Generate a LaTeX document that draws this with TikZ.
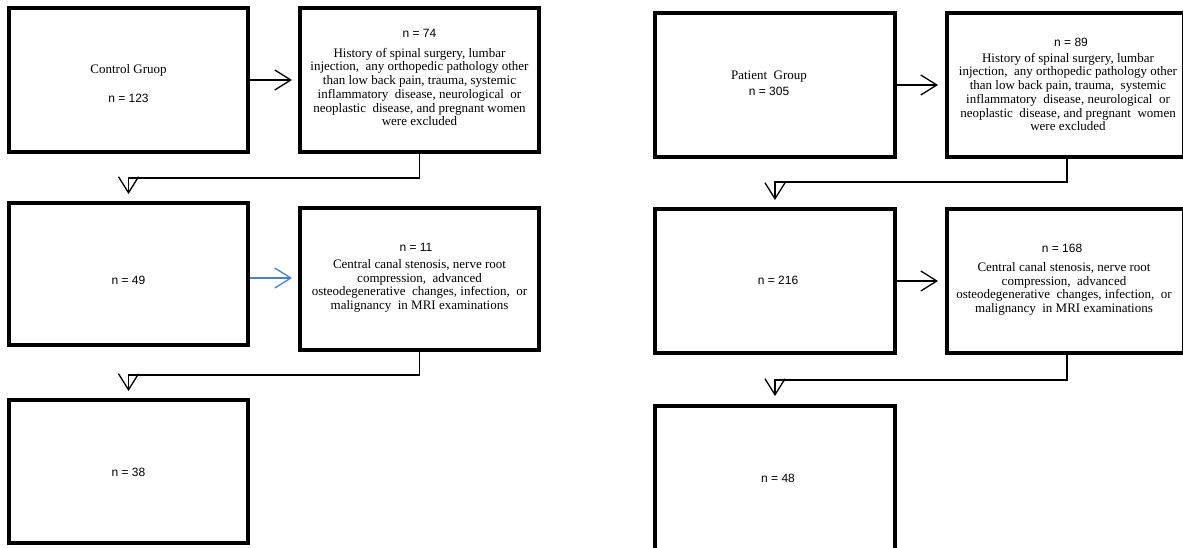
\documentclass[tikz,border=0pt]{standalone}
\usepackage{fontspec}
\setmainfont{Liberation Serif}
\newfontfamily\arialf{Liberation Sans}
\usetikzlibrary{arrows.meta}
\definecolor{arrblue}{RGB}{79,129,189}
\begin{document}
\begin{tikzpicture}[x=1pt,y=-1pt,
  box/.style={draw=black, line width=4pt, rectangle, inner sep=0pt, fill=white},
  bigbox/.style={box, minimum width=239pt, minimum height=144pt},
  sans/.style={font=\arialf\fontsize{12}{13.5}\selectfont, inner sep=0pt},
  serif/.style={font=\fontsize{13}{13.7}\selectfont, align=center, inner sep=0pt},
  arr/.style={line width=1.3pt, -{Straight Barb[length=16pt, width=20pt, line width=1.3pt]}},
  conn/.style={line width=1.2pt, -{Straight Barb[length=16pt, width=20pt, line width=1.3pt]}}
]
\useasboundingbox (0,0) rectangle (1183,548);
\fill[white] (0,0) rectangle (1183,548);

% ---------- left column (control group) ----------
\node[bigbox] (A) at (128.5,80) {};
\node[bigbox] (B) at (419.5,80) {};
\node[bigbox, minimum height=142pt] (C) at (128.5,274) {};
\node[bigbox, minimum height=142pt] (D) at (419.5,279) {};
\node[bigbox, minimum height=143pt] (E) at (128.5,471.5) {};

\node[serif] (tA1) at (128.5,70) {Control Gruop};
\node[sans] (tA2) at (128.5,98) {n = 123};
\node[sans] (tB1) at (419.5,33) {n = 74};
\node[serif] (tB2) at (419.5,87) {History of spinal surgery, lumbar\\
injection, \ any orthopedic pathology other\\
than low back pain, trauma, systemic\\
inflammatory \ disease, neurological \ or\\
neoplastic \ disease, and pregnant women\\
were excluded};
\node[sans] (tC) at (128.5,280) {n = 49};
\node[sans] (tD1) at (416,247) {n = 11};
\node[serif] (tD2) at (419.5,286) {Central canal stenosis, nerve root\\
compression, \ advanced\\
osteodegenerative \ changes, infection, \ or\\
malignancy \ in MRI examinations};
\node[sans] (tE) at (128.5,472) {n = 38};

\draw[arr, shorten >=6pt] (A.east) -- (B.west);
\draw[arr, arrblue, shorten >=6pt] (C.east |- 0,278) -- (D.west |- 0,278);
\coordinate (b1) at (419.5,178);
\draw[conn, shorten >=7pt] (B.south) -- (b1) -| (C.north);
\coordinate (d1) at (419.5,375);
\draw[conn, shorten >=7pt] (D.south) -- (d1) -| (E.north);

% ---------- right column (patient group) ----------
\node[bigbox, minimum width=240pt] (F) at (775,85) {};
\node[bigbox, minimum width=237pt] (G) at (1065.5,85) {};
\node[bigbox, minimum width=240pt] (H) at (775,281) {};
\node[bigbox, minimum width=237pt] (I) at (1065.5,281) {};
\node[bigbox, minimum width=240pt] (J) at (775,478) {};

\node[serif] (tF1) at (769,77) {Patient \ Group};
\node[sans] (tF2) at (769,91) {n = 305};
\node[sans] (tG1) at (1071,42) {n = 89};
\node[serif] (tG2) at (1068,92) {History of spinal surgery, lumbar\\
injection, \ any orthopedic pathology other\\
than low back pain, trauma, \ systemic\\
inflammatory \ disease, neurological \ or\\
neoplastic \ disease, and pregnant \ women\\
were excluded};
\node[sans] (tH) at (778,280) {n = 216};
\node[sans] (tI1) at (1062,248) {n = 168};
\node[serif] (tI2) at (1064,289) {Central canal stenosis, nerve root\\
compression, \ advanced\\
osteodegenerative \ changes, infection, \ or\\
malignancy \ in MRI examinations};
\node[sans] (tJ) at (778,478) {n = 48};

\draw[arr, shorten >=7pt] (F.east) -- (G.west);
\draw[arr, shorten >=7pt] (H.east) -- (I.west);
\coordinate (g1) at (1067,182);
\draw[conn, shorten >=7pt] (G.south -| g1) -- (g1) -| (H.north);
\coordinate (i1) at (1067,380);
\draw[conn, shorten >=8pt] (I.south -| i1) -- (i1) -| (J.north);
\end{tikzpicture}
\end{document}
